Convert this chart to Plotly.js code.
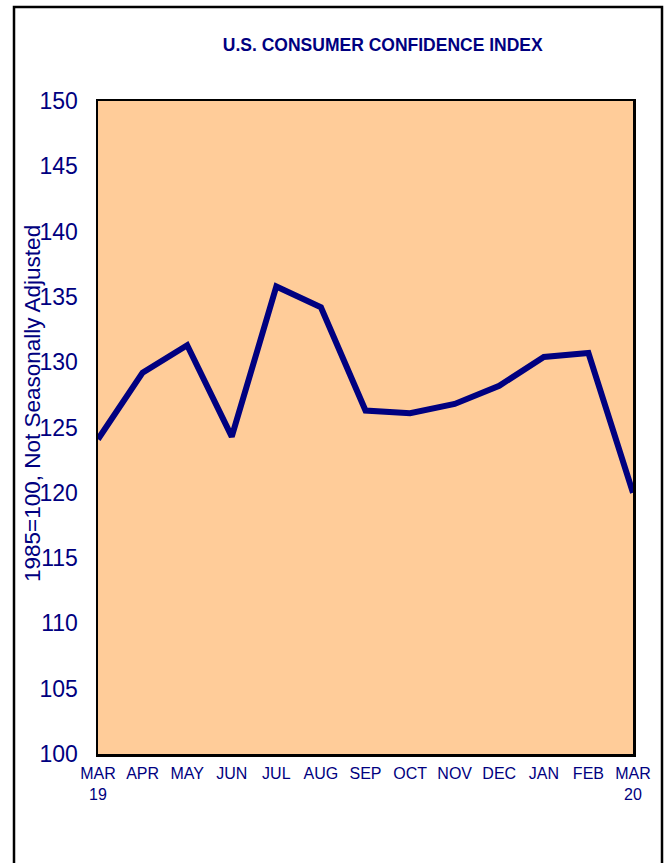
<!DOCTYPE html>
<html>
<head>
<meta charset="utf-8">
<script src="https://cdn.plot.ly/plotly-3.0.1.min.js"></script>
<style>
  html, body { margin: 0; padding: 0; background: #ffffff; }
  #chart { width: 667px; height: 863px; }
</style>
</head>
<body>
<div id="chart"></div>
<script>
const months = ["MAR<br>19", "APR", "MAY", "JUN", "JUL", "AUG", "SEP", "OCT", "NOV", "DEC", "JAN", "FEB", "MAR<br>20"];
const confidence = [124.1, 129.2, 131.3, 124.3, 135.8, 134.2, 126.3, 126.1, 126.8, 128.2, 130.4, 130.7, 120.0];
const yTicks = [100, 105, 110, 115, 120, 125, 130, 135, 140, 145, 150];

const font = "'Liberation Sans', Arial, sans-serif";
const navy = "#000080";
const idx = months.map((m, i) => i);

const trace = {
  type: "scatter",
  mode: "lines",
  x: idx,
  y: confidence,
  line: { color: navy, width: 6 },
  hoverinfo: "skip",
  cliponaxis: true
};

const layout = {
  width: 667,
  height: 863,
  margin: { l: 98, r: 34, t: 101, b: 109 },
  paper_bgcolor: "#ffffff",
  plot_bgcolor: "#FFCC99",
  showlegend: false,
  title: {
    text: "<b>U.S. CONSUMER CONFIDENCE INDEX</b>",
    font: { family: font, size: 17.5, color: navy },
    x: 355 / 667, xanchor: "center", xref: "paper",
    y: 1 - 45 / 863, yanchor: "middle", yref: "container"
  },
  xaxis: {
    range: [0, months.length - 1],
    tickmode: "array",
    tickvals: idx,
    ticktext: months,
    ticks: "",
    showgrid: false,
    zeroline: false,
    showline: true,
    linecolor: "#000000",
    linewidth: 2.5,
    mirror: true,
    tickfont: { family: font, size: 16, color: navy },
    ticklabelstandoff: 3,
    fixedrange: true
  },
  yaxis: {
    range: [100, 150],
    tickmode: "array",
    tickvals: yTicks,
    ticktext: yTicks.map(String),
    ticks: "",
    showgrid: false,
    zeroline: false,
    showline: true,
    linecolor: "#000000",
    linewidth: 2.5,
    mirror: true,
    tickfont: { family: font, size: 23, color: navy },
    ticklabelstandoff: 13,
    fixedrange: true
  },
  annotations: [{
    text: "1985=100, Not Seasonally Adjusted",
    xref: "paper", yref: "paper",
    x: (32 - 98) / 535, y: (754 - 404) / 653,
    xanchor: "center", yanchor: "middle",
    textangle: -90,
    showarrow: false,
    font: { family: font, size: 22.5, color: navy }
  }],
  shapes: [{
    type: "rect",
    xref: "paper", yref: "paper",
    x0: (14 - 98) / 535, x1: (662 - 98) / 535,
    y0: (754 - 900) / 653, y1: (754 - 7) / 653,
    line: { color: "#000000", width: 2.5 },
    fillcolor: "rgba(0,0,0,0)",
    layer: "below"
  }]
};

Plotly.newPlot("chart", [trace], layout, { displayModeBar: false, staticPlot: true });
</script>
</body>
</html>
